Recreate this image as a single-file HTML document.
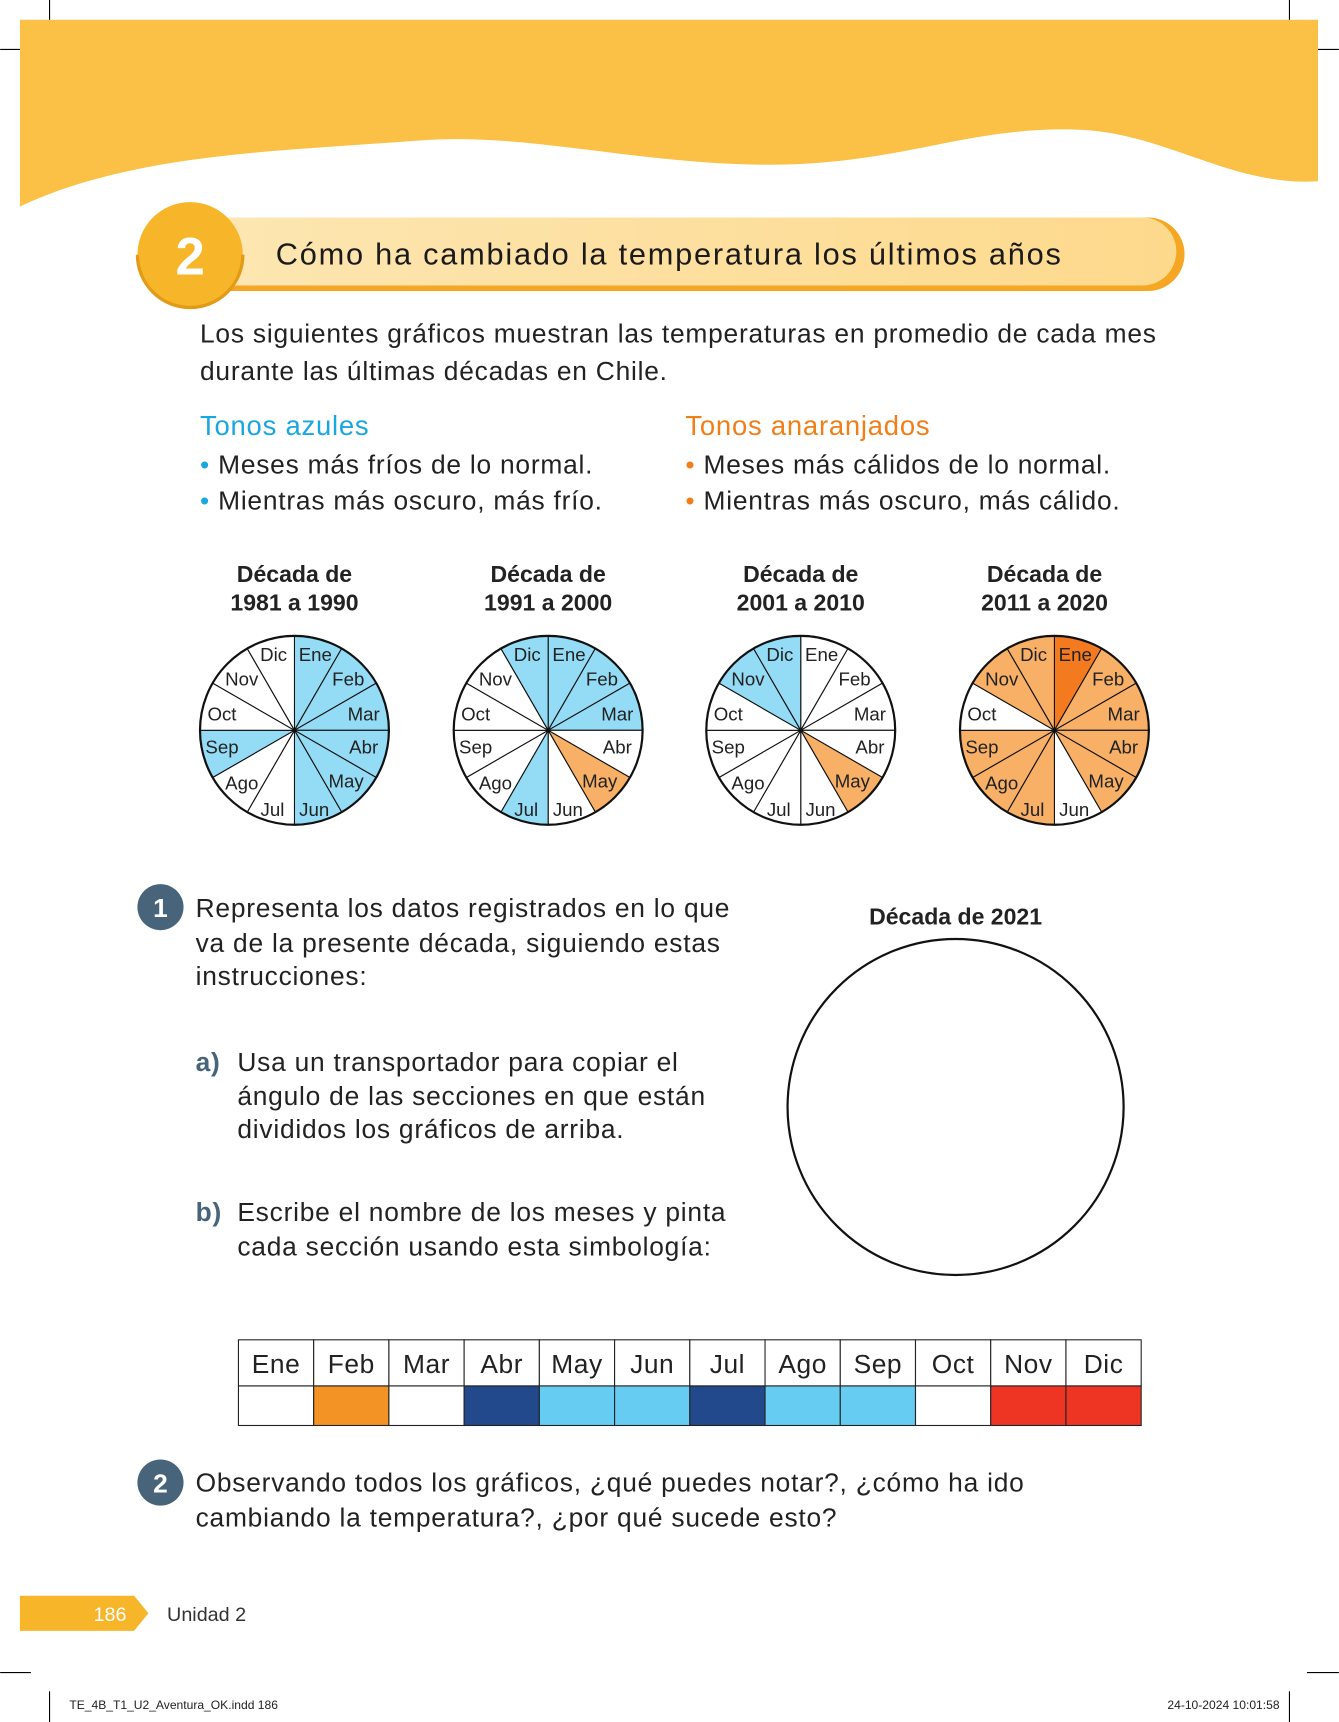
<!DOCTYPE html>
<html><head><meta charset="utf-8"><style>
html,body{margin:0;padding:0;background:#fff}
svg{display:block}
text{font-family:"Liberation Sans","DejaVu Sans",sans-serif}
.b{letter-spacing:0.7px}
</style></head><body>
<svg id="s" width="1339" height="1722" viewBox="0 0 1219 1568" xmlns="http://www.w3.org/2000/svg">
<defs><linearGradient id="g" x1="0" x2="1"><stop offset="0" stop-color="#fde6b2"/><stop offset="1" stop-color="#fdd98c"/></linearGradient></defs>
<g stroke="#000" stroke-width="1">
<line x1="45" y1="0" x2="45" y2="28"/><line x1="0" y1="45" x2="28" y2="45"/>
<line x1="1174" y1="0" x2="1174" y2="28"/><line x1="1190" y1="45" x2="1219" y2="45"/>
<line x1="45" y1="1540" x2="45" y2="1568"/><line x1="0" y1="1523" x2="28" y2="1523"/>
<line x1="1174" y1="1540" x2="1174" y2="1568"/><line x1="1190" y1="1523" x2="1219" y2="1523"/>
</g>
<path d="M18 18 H1200 V165 C1120 170 1060 120 980 118 C880 115 820 150 700 150 C580 150 480 120 380 128 C250 138 120 140 18 188 Z" fill="#fbc046"/>
<path d="M195 198 H1045 A33 33 0 0 1 1045 265 H195 Z" fill="#f5a623"/>
<path d="M195 198 H1040 A31 31 0 0 1 1040 260 H195 Z" fill="url(#g)"/>
<circle cx="173" cy="232" r="48" fill="#f7b52a"/>
<path d="M125 232 A48 48 0 0 0 221 232" fill="none" stroke="#e39a17" stroke-width="3"/>
<text x="173" y="250" font-size="48" font-weight="bold" fill="#fff" text-anchor="middle">2</text>
<text x="251" y="241" font-size="28" fill="#1a1a1a" letter-spacing="1.6">Cómo ha cambiado la temperatura los últimos años</text>
<g class="b">
<text x="182" y="312" font-size="24" fill="#222">Los siguientes gráficos muestran las temperaturas en promedio de cada mes</text>
<text x="182" y="346" font-size="24" fill="#222">durante las últimas décadas en Chile.</text>
<text x="182" y="396" font-size="25" fill="#1aa7e0">Tonos azules</text>
<text x="182" y="431" font-size="24" fill="#222"><tspan fill="#1aa7e0">•</tspan> Meses más fríos de lo normal.</text>
<text x="182" y="464" font-size="24" fill="#222"><tspan fill="#1aa7e0">•</tspan> Mientras más oscuro, más frío.</text>
<text x="624" y="396" font-size="25" fill="#f07f1a">Tonos anaranjados</text>
<text x="624" y="431" font-size="24" fill="#222"><tspan fill="#f07f1a">•</tspan> Meses más cálidos de lo normal.</text>
<text x="624" y="464" font-size="24" fill="#222"><tspan fill="#f07f1a">•</tspan> Mientras más oscuro, más cálido.</text>
</g>
<g font-size="21" font-weight="bold" fill="#222" text-anchor="middle">
<text x="268" y="530">Década de</text><text x="268" y="556">1981 a 1990</text>
<text x="499" y="530">Década de</text><text x="499" y="556">1991 a 2000</text>
<text x="729" y="530">Década de</text><text x="729" y="556">2001 a 2010</text>
<text x="951" y="530">Década de</text><text x="951" y="556">2011 a 2020</text>
</g>
<g id="pies"></g>
<circle cx="146" cy="826" r="21" fill="#47647a"/><text x="146" y="835" font-size="24" font-weight="bold" fill="#fff" text-anchor="middle">1</text>
<g font-size="24" fill="#222" class="b">
<text x="178" y="835">Representa los datos registrados en lo que</text>
<text x="178" y="867">va de la presente década, siguiendo estas</text>
<text x="178" y="897">instrucciones:</text>
<text x="178" y="975"><tspan font-weight="bold" fill="#47647a">a)</tspan></text>
<text x="216" y="975">Usa un transportador para copiar el</text>
<text x="216" y="1006">ángulo de las secciones en que están</text>
<text x="216" y="1036">divididos los gráficos de arriba.</text>
<text x="178" y="1112"><tspan font-weight="bold" fill="#47647a">b)</tspan></text>
<text x="216" y="1112">Escribe el nombre de los meses y pinta</text>
<text x="216" y="1143">cada sección usando esta simbología:</text>
</g>
<text x="870" y="842" font-size="21" font-weight="bold" fill="#222" text-anchor="middle">Década de 2021</text>
<circle cx="870" cy="1008" r="153" fill="none" stroke="#111" stroke-width="2"/>
<g id="tab"></g>
<circle cx="146" cy="1350" r="21" fill="#47647a"/><text x="146" y="1359" font-size="24" font-weight="bold" fill="#fff" text-anchor="middle">2</text>
<text x="178" y="1358" font-size="24" fill="#222" class="b">Observando todos los gráficos, ¿qué puedes notar?, ¿cómo ha ido</text>
<text x="178" y="1390" font-size="24" fill="#222" class="b">cambiando la temperatura?, ¿por qué sucede esto?</text>
<path d="M18 1453 H122 L135 1469 L122 1485 H18 Z" fill="#f7b52a"/>
<text x="100" y="1476" font-size="18" fill="#fff" text-anchor="middle">186</text>
<text x="152" y="1476" font-size="18" fill="#333">Unidad 2</text>
<text x="63" y="1556" font-size="11" fill="#222">TE_4B_T1_U2_Aventura_OK.indd   186</text>
<text x="1165" y="1556" font-size="11" fill="#222" text-anchor="end">24-10-2024   10:01:58</text>
</svg>
<script>
var NS="http://www.w3.org/2000/svg";
function el(p,t,a,txt){var e=document.createElementNS(NS,t);for(var k in a)e.setAttribute(k,a[k]);if(txt)e.textContent=txt;p.appendChild(e);return e;}
var B="#94dcf5",O="#f8b066",D="#f37a1f",W="#fff";
var names=["Ene","Feb","Mar","Abr","May","Jun","Jul","Ago","Sep","Oct","Nov","Dic"];
var off=[[19,-69],[49,-47],[63,-15],[63,15],[47,46],[18,72],[-20,72],[-48,48],[-66,15],[-66,-15],[-48,-47],[-19,-69]];
var pies=[[268,[B,B,B,B,B,B,W,W,B,W,W,W]],[499,[B,B,B,W,O,W,B,W,W,W,W,B]],[729,[W,W,W,W,O,W,W,W,W,W,B,B]],[960,[D,O,O,O,O,W,O,O,O,W,O,O]]];
var g=document.getElementById("pies"),cy=665,r=86;
pies.forEach(function(p){var cx=p[0];
for(var i=0;i<12;i++){var a1=(i*30-90)*Math.PI/180,a2=((i+1)*30-90)*Math.PI/180;
el(g,"path",{d:"M"+cx+" "+cy+" L"+(cx+r*Math.cos(a1))+" "+(cy+r*Math.sin(a1))+" A"+r+" "+r+" 0 0 1 "+(cx+r*Math.cos(a2))+" "+(cy+r*Math.sin(a2))+" Z",fill:p[1][i],stroke:"#111","stroke-width":"1"});}
el(g,"circle",{cx:cx,cy:cy,r:r,fill:"none",stroke:"#111","stroke-width":"2"});
for(var i=0;i<12;i++)el(g,"text",{x:cx+off[i][0],y:cy+off[i][1]+6,"font-size":"17",fill:"#222","text-anchor":"middle"},names[i]);
});
var t=document.getElementById("tab"),cols=[W,"#f39325",W,"#21498c","#66ccf2","#66ccf2","#21498c","#66ccf2","#66ccf2",W,"#ee3524","#ee3524"],w=68.5;
for(var i=0;i<12;i++){var x=217+i*w;
el(t,"rect",{x:x,y:1220,width:w,height:42,fill:"#fff",stroke:"#222","stroke-width":"1"});
el(t,"rect",{x:x,y:1262,width:w,height:36,fill:cols[i],stroke:"#222","stroke-width":"1"});
el(t,"text",{x:x+w/2,y:1250,"font-size":"24",fill:"#222","text-anchor":"middle","letter-spacing":"0.5"},names[i]);}
</script>
</body></html>
